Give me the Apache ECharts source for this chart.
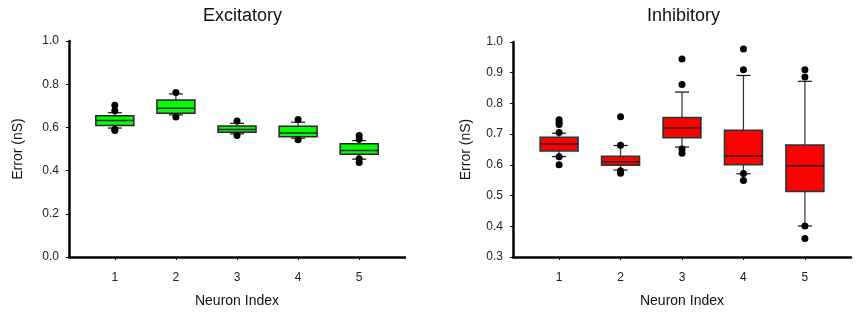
<!DOCTYPE html>
<html>
<head>
<meta charset="utf-8">
<script src="https://cdn.jsdelivr.net/npm/echarts@6/dist/echarts.min.js"></script>
<style>
  html, body { margin: 0; padding: 0; background: #fff; }
  #chart { width: 856px; height: 313px; }
</style>
</head>
<body>
<div id="chart"></div>
<script>
  // neuron index on the x axis
  var categories = [1, 2, 3, 4, 5]

  // Excitatory box statistics
  var excMin = [0.597, 0.658, 0.570, 0.550, 0.453]
  var excQ1 = [0.609, 0.665, 0.578, 0.557, 0.476]
  var excMedian = [0.632, 0.689, 0.590, 0.574, 0.493]
  var excQ3 = [0.654, 0.727, 0.606, 0.605, 0.524]
  var excMax = [0.668, 0.755, 0.619, 0.624, 0.539]
  var excOutliers = [
    [1, 0.702], [1, 0.677], [1, 0.592], [1, 0.586],
    [2, 0.761], [2, 0.648],
    [3, 0.630], [3, 0.563],
    [4, 0.636], [4, 0.543],
    [5, 0.562], [5, 0.545], [5, 0.455], [5, 0.437]
  ]

  // Inhibitory box statistics
  var inhMin = [0.627, 0.583, 0.658, 0.571, 0.401]
  var inhQ1 = [0.645, 0.599, 0.688, 0.600, 0.513]
  var inhMedian = [0.668, 0.610, 0.720, 0.629, 0.597]
  var inhQ3 = [0.690, 0.628, 0.754, 0.713, 0.665]
  var inhMax = [0.703, 0.663, 0.837, 0.891, 0.872]
  var inhOutliers = [
    [1, 0.747], [1, 0.738], [1, 0.731], [1, 0.705], [1, 0.626], [1, 0.600],
    [2, 0.757], [2, 0.664], [2, 0.581], [2, 0.573],
    [3, 0.945], [3, 0.862], [3, 0.652], [3, 0.638],
    [4, 0.977], [4, 0.910], [4, 0.572], [4, 0.549],
    [5, 0.910], [5, 0.886], [5, 0.401], [5, 0.360]
  ]

  // y axis ticks
  var excTicks = [0, 0.2, 0.4, 0.6, 0.8, 1.0]
  var inhTicks = [0.3, 0.4, 0.5, 0.6, 0.7, 0.8, 0.9, 1.0]

  var font = 'Arial, "Liberation Sans", sans-serif'

  function boxRows (mins, q1s, meds, q3s, maxs) {
    return categories.map(function (c, i) {
      return [c, mins[i], q1s[i], meds[i], q3s[i], maxs[i]]
    })
  }

  // draws one box with whiskers and short caps
  function makeBoxRenderer (fill, border, whisker) {
    return function (params, api) {
      var x = api.value(0)
      var pMin = api.coord([x, api.value(1)])
      var pQ1 = api.coord([x, api.value(2)])
      var pMed = api.coord([x, api.value(3)])
      var pQ3 = api.coord([x, api.value(4)])
      var pMax = api.coord([x, api.value(5)])
      var half = 19
      var cap = 7
      var cx = pMed[0]
      return {
        type: 'group',
        children: [
          { type: 'line', shape: { x1: cx, y1: pMax[1], x2: cx, y2: pQ3[1] }, style: { stroke: whisker, lineWidth: 1.2 } },
          { type: 'line', shape: { x1: cx, y1: pQ1[1], x2: cx, y2: pMin[1] }, style: { stroke: whisker, lineWidth: 1.2 } },
          { type: 'line', shape: { x1: cx - cap, y1: pMax[1], x2: cx + cap, y2: pMax[1] }, style: { stroke: '#111', lineWidth: 1.2 } },
          { type: 'line', shape: { x1: cx - cap, y1: pMin[1], x2: cx + cap, y2: pMin[1] }, style: { stroke: '#111', lineWidth: 1.2 } },
          { type: 'rect', shape: { x: cx - half, y: pQ3[1], width: half * 2, height: pQ1[1] - pQ3[1] }, style: { fill: fill, stroke: border, lineWidth: 1.5 } },
          { type: 'line', shape: { x1: cx - half, y1: pMed[1], x2: cx + half, y2: pMed[1] }, style: { stroke: '#222', lineWidth: 1.5 } }
        ]
      }
    }
  }

  function xAxisFor (gridIndex) {
    return {
      type: 'value',
      gridIndex: gridIndex,
      min: 0.25,
      max: 5.75,
      name: 'Neuron Index',
      nameLocation: 'middle',
      nameGap: 37,
      nameTextStyle: { fontSize: 14, color: '#111', fontFamily: font },
      splitLine: { show: false },
      axisLine: { lineStyle: { color: '#000', width: 2.5 } },
      axisTick: { customValues: categories, length: 3, lineStyle: { color: '#000' } },
      axisLabel: { customValues: categories, margin: 15, fontSize: 12, color: '#222', fontFamily: font }
    }
  }

  function yAxisFor (gridIndex, ticks, gap) {
    return {
      type: 'value',
      gridIndex: gridIndex,
      min: ticks[0],
      max: ticks[ticks.length - 1],
      interval: 0.1 * (gridIndex === 0 ? 2 : 1),
      name: 'Error (nS)',
      nameLocation: 'middle',
      nameGap: gap,
      nameTextStyle: { fontSize: 14, color: '#111', fontFamily: font },
      splitLine: { show: false },
      axisLine: { show: true, lineStyle: { color: '#000', width: 2.5 } },
      axisTick: { show: true, length: 3, lineStyle: { color: '#000' } },
      axisLabel: {
        margin: 10, fontSize: 12, color: '#222', fontFamily: font,
        formatter: function (v) { return v.toFixed(1) }
      }
    }
  }

  var chart = echarts.init(document.getElementById('chart'))
  chart.setOption({
    backgroundColor: '#fff',
    animation: false,
    title: [
      { text: 'Excitatory', left: 198, top: 2, textStyle: { fontSize: 18, fontWeight: 'normal', color: '#111', fontFamily: font } },
      { text: 'Inhibitory', left: 642, top: 2, textStyle: { fontSize: 18, fontWeight: 'normal', color: '#111', fontFamily: font } }
    ],
    grid: [
      { left: 69, top: 41, width: 336, height: 219 },
      { left: 513, top: 42, width: 338, height: 218 }
    ],
    xAxis: [xAxisFor(0), xAxisFor(1)],
    yAxis: [yAxisFor(0, excTicks, 44), yAxisFor(1, inhTicks, 40)],
    series: [
      {
        type: 'custom',
        xAxisIndex: 0,
        yAxisIndex: 0,
        renderItem: makeBoxRenderer('#00ff00', '#3a1a3a', '#222'),
        encode: { x: 0, y: [1, 2, 3, 4, 5] },
        data: boxRows(excMin, excQ1, excMedian, excQ3, excMax)
      },
      {
        type: 'scatter',
        xAxisIndex: 0,
        yAxisIndex: 0,
        symbolSize: 7,
        itemStyle: { color: '#000', opacity: 1 },
        data: excOutliers,
        z: 5
      },
      {
        type: 'custom',
        xAxisIndex: 1,
        yAxisIndex: 1,
        renderItem: makeBoxRenderer('#ff0000', '#1e3a3a', '#333'),
        encode: { x: 0, y: [1, 2, 3, 4, 5] },
        data: boxRows(inhMin, inhQ1, inhMedian, inhQ3, inhMax)
      },
      {
        type: 'scatter',
        xAxisIndex: 1,
        yAxisIndex: 1,
        symbolSize: 7,
        itemStyle: { color: '#000', opacity: 1 },
        data: inhOutliers,
        z: 5
      }
    ]
  })
</script>
</body>
</html>
